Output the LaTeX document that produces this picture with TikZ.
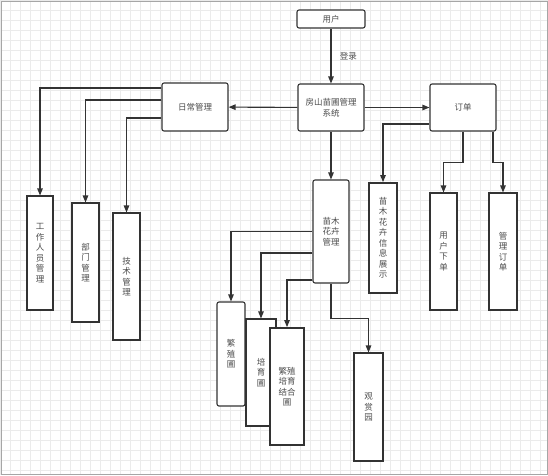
\documentclass[tikz,border=0pt]{standalone}
\usepackage{fontspec}
\newfontfamily\cjk{Noto Sans CJK SC}
\usetikzlibrary{arrows.meta}

\tikzset{
  box/.style={draw=black!80, fill=white, line width=1.1pt, rounded corners=2pt,
    font={\cjk\fontsize{8.5}{10.5}\selectfont}, text=black!70, align=center, inner sep=0pt},
  sqbox/.style={box, rounded corners=0pt},
  thickbox/.style={sqbox, line width=1.8pt},
  link/.style={->, draw=black!80, line width=1.1pt},
}

\begin{document}
\begin{tikzpicture}[x=1pt, y=-1pt, >={Triangle[length=7pt,width=5.5pt]}]
    \useasboundingbox (0,0) rectangle (548,475);
    \draw[black!8, step=10pt] (0,0) grid (548,475);
    \draw[black!35, line width=0.6pt] (1,1) rectangle (547,474);

    % top row
    \node[box, minimum width=68pt, minimum height=18pt] (user) at (331,19) {用户};
    \node[box, minimum width=66pt, minimum height=47pt] (sys) at (331,107.5) {房山苗圃管理\\系统};
    \node[box, minimum width=66pt, minimum height=48pt] (daily) at (195,107) {日常管理};
    \node[box, minimum width=66pt, minimum height=47pt] (order) at (463,107.5) {订单};

    % daily management
    \node[sqbox, minimum width=26pt, minimum height=114pt] (staff) at (40,253) {工\\作\\人\\员\\管\\理};
    \node[sqbox, minimum width=27pt, minimum height=119pt] (dept) at (85.5,262.5) {部\\门\\管\\理};
    \node[sqbox, minimum width=27pt, minimum height=127pt] (tech) at (126.5,276.5) {技\\术\\管\\理};

    % plants
    \node[box, minimum width=36pt, minimum height=103pt] (plant) at (331,231.5) {苗木\\花卉\\管理};
    \node[box, minimum width=28pt, minimum height=104pt] (breed) at (231,354) {繁\\殖\\圃};
    \node[sqbox, minimum width=30pt, minimum height=107pt] (nursery) at (261,372.5) {培\\育\\圃};
    \node[thickbox, minimum width=34pt, minimum height=117pt] (combo) at (287,386.5) {繁殖\\培育\\结合\\圃};
    \node[sqbox, minimum width=29pt, minimum height=108pt] (garden) at (368.5,407) {观\\赏\\园};

    % orders
    \node[thickbox, minimum width=28pt, minimum height=110pt] (info) at (383,238) {苗\\木\\花\\卉\\信\\息\\展\\示};
    \node[sqbox, minimum width=27pt, minimum height=117pt] (place) at (443.5,251.5) {用\\户\\下\\单};
    \node[sqbox, minimum width=28pt, minimum height=117pt] (manage) at (503,251.5) {管\\理\\订\\单};

    \draw[link] (user) -- (sys) node[midway, right=5pt, font={\cjk\fontsize{8.5}{10}\selectfont}, text=black!70] {登录};
    \draw[link] (sys) -- (daily);
    \draw[link] (sys) -- (order);
    \draw[link] (sys) -- (plant);

    \draw[link] ([yshift=19pt]daily.west) -| (staff.north);
    \draw[link] ([yshift=7pt]daily.west) -| (dept.north);
    \draw[link] ([yshift=-11pt]daily.west) -| (tech.north);

    \draw[link] ([yshift=-16.5pt]order.west) -| (info.north);
    \draw[link] (order.south) -- ++(0,31) -| (place.north);
    \draw[link] ([xshift=30pt]order.south) -- ++(0,31) -| (manage.north);

    \draw[link] (plant.west) -| (breed.north);
    \draw[link] ([yshift=-21.5pt]plant.west) -| (nursery.north);
    \draw[link] ([yshift=-48.5pt]plant.west) -| (combo.north);
    \draw[link] (plant.south) -- ++(0,35) -| (garden.north);

    % redraw front box over neighbour
    \node[thickbox, minimum width=34pt, minimum height=117pt] at (287,386.5) {繁殖\\培育\\结合\\圃};
\end{tikzpicture}
\end{document}
